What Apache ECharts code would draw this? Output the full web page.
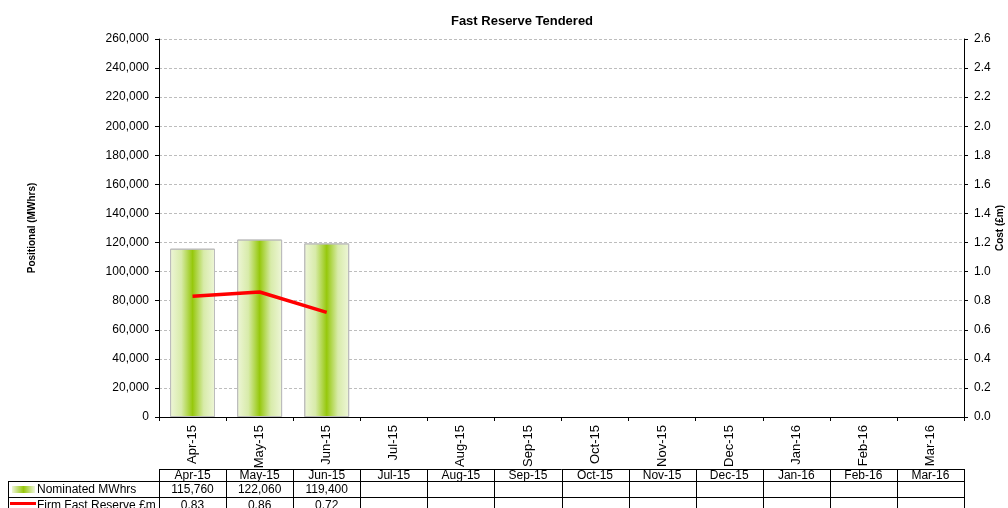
<!DOCTYPE html>
<html>
<head>
<meta charset="utf-8">
<script src="https://cdn.jsdelivr.net/npm/echarts@6/dist/echarts.min.js"></script>
<style>
html,body{margin:0;padding:0;background:#fff;}
#chart{width:1008px;height:508px;}
</style>
</head>
<body>
<div id="chart"></div>
<script>
const months = ['Apr-15','May-15','Jun-15','Jul-15','Aug-15','Sep-15','Oct-15','Nov-15','Dec-15','Jan-16','Feb-16','Mar-16'];
const nominatedMWhrs = [115760, 122060, 119400, null, null, null, null, null, null, null, null, null];
const firmCost = [0.83, 0.86, 0.72, null, null, null, null, null, null, null, null, null];
const seriesNames = ['Nominated MWhrs', 'Firm Fast Reserve £m'];
const titleText = 'Fast Reserve Tendered';
const leftAxisName = 'Positional (MWhrs)';
const rightAxisName = 'Cost (£m)';

const FONT = '"Liberation Sans", Arial, sans-serif';
const barGradient = new echarts.graphic.LinearGradient(0, 0, 1, 0, [
  {offset: 0, color: '#eef6d8'},
  {offset: 0.25, color: '#d8ebaa'},
  {offset: 0.5, color: '#96c80c'},
  {offset: 0.75, color: '#d8ebaa'},
  {offset: 1, color: '#eef6d8'}
]);

const chart = echarts.init(document.getElementById('chart'), null, {renderer: 'canvas'});
const option = {
  animation: false,
  backgroundColor: '#fff',
  textStyle: {fontFamily: FONT},
  title: {
    text: titleText, left: 517, top: 10, textAlign: 'center',
    textStyle: {fontFamily: FONT, fontSize: 13, fontWeight: 'bold', color: '#000'}
  },
  grid: {left: 159, right: 44, top: 39, bottom: 91, containLabel: false, outerBoundsMode: 'none'},
  xAxis: {
    type: 'category', data: months,
    axisLine: {lineStyle: {color: '#000', width: 1}},
    axisTick: {show: true, alignWithLabel: false, length: 4, lineStyle: {color: '#000'}},
    axisLabel: {rotate: 90, interval: 0, fontSize: 13, color: '#000', fontFamily: FONT, margin: 8},
    splitLine: {show: false}
  },
  yAxis: [{
    type: 'value', min: 0, max: 260000, interval: 20000, position: 'left',
    name: leftAxisName, nameLocation: 'middle', nameRotate: 90, nameGap: 122,
    nameMoveOverlap: false,
    nameTextStyle: {fontFamily: FONT, fontSize: 10, fontWeight: 'bold', color: '#000'},
    axisLine: {show: true, lineStyle: {color: '#000'}},
    axisTick: {show: true, length: 4, lineStyle: {color: '#000'}},
    axisLabel: {fontSize: 12, color: '#000', fontFamily: FONT, margin: 10,
      formatter: v => v.toLocaleString('en-US')},
    splitLine: {show: true, lineStyle: {color: '#bdbdbd', type: [3, 2], width: 1}}
  }, {
    type: 'value', min: 0, max: 2.6, interval: 0.2, position: 'right',
    name: rightAxisName, nameLocation: 'middle', nameRotate: 90, nameGap: 31,
    nameMoveOverlap: false,
    nameTextStyle: {fontFamily: FONT, fontSize: 10, fontWeight: 'bold', color: '#000'},
    axisLine: {show: true, lineStyle: {color: '#000'}},
    axisTick: {show: true, length: 4, lineStyle: {color: '#000'}},
    axisLabel: {fontSize: 12, color: '#000', fontFamily: FONT, margin: 10,
      formatter: v => v.toFixed(1)},
    splitLine: {show: false}
  }],
  series: [{
    name: seriesNames[0], type: 'bar', data: nominatedMWhrs, yAxisIndex: 0,
    barWidth: '67%',
    itemStyle: {color: barGradient, borderColor: '#bcbcbc', borderWidth: 1}
  }, {
    name: seriesNames[1], type: 'line', data: firmCost, yAxisIndex: 1,
    showSymbol: false, symbol: 'none',
    lineStyle: {color: '#ff0000', width: 3.5}, itemStyle: {color: '#ff0000'}
  }]
};
chart.setOption(option);

function buildTable() {
  const c0 = chart.convertToPixel({xAxisIndex: 0}, months[0]);
  const c1 = chart.convertToPixel({xAxisIndex: 0}, months[1]);
  const bw = c1 - c0;
  const left = c0 - bw / 2;
  const right = left + bw * months.length;
  const rowTops = [469, 481, 497, 513];
  const labelLeft = 8;
  const els = [];
  const line = (x1, y1, x2, y2) => els.push({type: 'line', silent: true,
    shape: {x1, y1, x2, y2}, style: {stroke: '#000', lineWidth: 1}});
  const txt = (x, y, s, align) => els.push({type: 'text', silent: true,
    style: {x, y, text: s, textAlign: align || 'center', textVerticalAlign: 'middle',
      font: '12px ' + FONT, fill: '#000'}});
  line(left, rowTops[0] + 0.5, right, rowTops[0] + 0.5);
  line(labelLeft, rowTops[1] + 0.5, right, rowTops[1] + 0.5);
  line(labelLeft, rowTops[2] + 0.5, right, rowTops[2] + 0.5);
  for (let i = 0; i <= months.length; i++) {
    const x = Math.round(left + i * bw) + 0.5;
    line(x, rowTops[0], x, rowTops[3]);
  }
  line(labelLeft + 0.5, rowTops[1], labelLeft + 0.5, rowTops[3]);
  months.forEach((m, i) => {
    const cx = left + (i + 0.5) * bw;
    txt(cx, (rowTops[0] + rowTops[1]) / 2 + 1, m);
    if (nominatedMWhrs[i] != null) txt(cx, (rowTops[1] + rowTops[2]) / 2 + 1, nominatedMWhrs[i].toLocaleString('en-US'));
    if (firmCost[i] != null) txt(cx, (rowTops[2] + rowTops[3]) / 2 + 1, firmCost[i].toFixed(2));
  });
  els.push({type: 'rect', silent: true, shape: {x: 12, y: 486, width: 23, height: 7},
    style: {fill: new echarts.graphic.LinearGradient(0, 0, 1, 0, [
      {offset: 0, color: '#eef6d8'}, {offset: 0.5, color: '#96c80c'}, {offset: 1, color: '#eef6d8'}])}});
  txt(37, (rowTops[1] + rowTops[2]) / 2 + 1, seriesNames[0], 'left');
  els.push({type: 'line', silent: true, shape: {x1: 10, y1: 503.5, x2: 36, y2: 503.5},
    style: {stroke: '#ff0000', lineWidth: 3}});
  txt(37, (rowTops[2] + rowTops[3]) / 2 + 1, seriesNames[1], 'left');
  chart.setOption({graphic: {elements: els}});
}
buildTable();
</script>
</body>
</html>
